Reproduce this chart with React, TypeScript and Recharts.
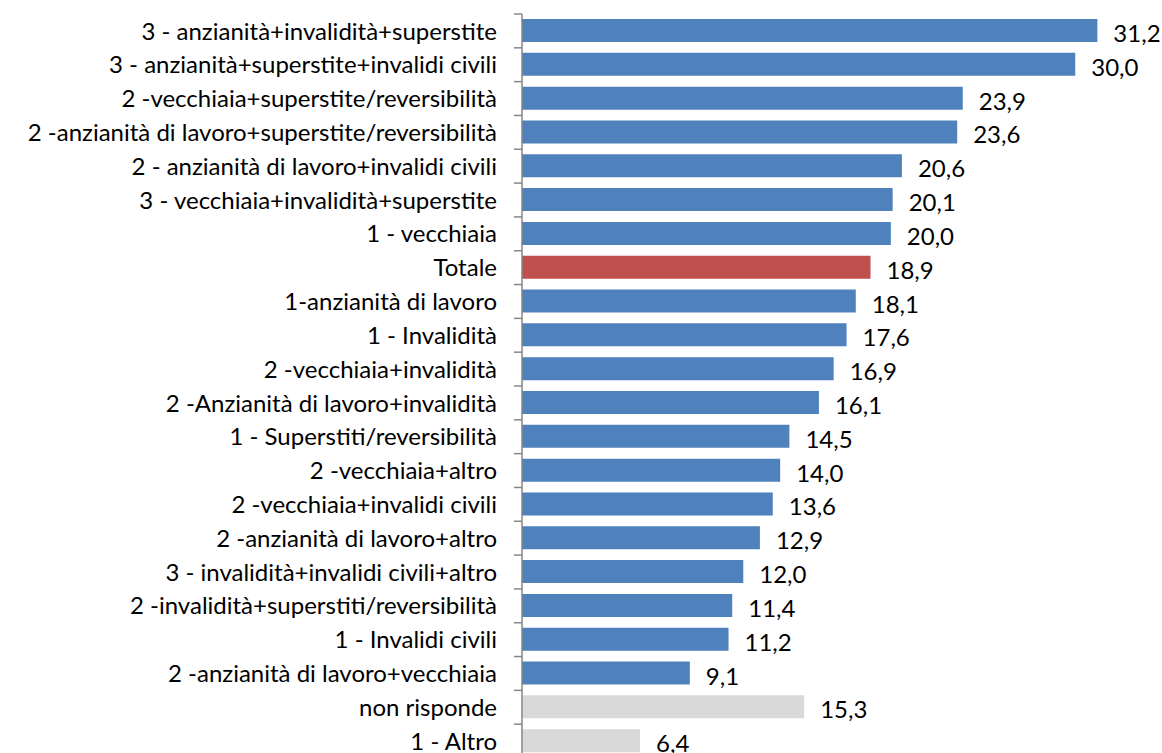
import React from 'react';
import { BarChart, Bar, XAxis, YAxis, Cell, LabelList } from 'recharts';

const categories = [
  '3 - anzianità+invalidità+superstite',
  '3 - anzianità+superstite+invalidi civili',
  '2 -vecchiaia+superstite/reversibilità',
  '2 -anzianità di lavoro+superstite/reversibilità',
  '2 - anzianità di lavoro+invalidi civili',
  '3 - vecchiaia+invalidità+superstite',
  '1 - vecchiaia',
  'Totale',
  '1-anzianità di lavoro',
  '1 - Invalidità',
  '2 -vecchiaia+invalidità',
  '2 -Anzianità di lavoro+invalidità',
  '1 - Superstiti/reversibilità',
  '2 -vecchiaia+altro',
  '2 -vecchiaia+invalidi civili',
  '2 -anzianità di lavoro+altro',
  '3 - invalidità+invalidi civili+altro',
  '2 -invalidità+superstiti/reversibilità',
  '1 - Invalidi civili',
  '2 -anzianità di lavoro+vecchiaia',
  'non risponde',
  '1 - Altro',
];

const values = [31.2, 30.0, 23.9, 23.6, 20.6, 20.1, 20.0, 18.9, 18.1, 17.6, 16.9, 16.1, 14.5, 14.0, 13.6, 12.9, 12.0, 11.4, 11.2, 9.1, 15.3, 6.4];

const totalCategory = 'Totale';
const otherCategories = ['non risponde', '1 - Altro'];

const data = categories.map((name, i) => ({ name, value: values[i] }));

const FONT = 'Lato, sans-serif';
const FONT_SIZE = 24;

const barColor = (name: string) => {
  if (name === totalCategory) return '#C0504D';
  if (otherCategories.includes(name)) return '#D9D9D9';
  return '#4F81BD';
};

const CategoryTick = (props: any) => {
  const { x, y, payload } = props;
  const half = payload.offset || 0;
  return (
    <g>
      <line x1={x - 8} x2={x} y1={y - half} y2={y - half} stroke="#868686" strokeWidth={1.5} />
      <text x={x - 25} y={y} dy="0.36em" textAnchor="end" fill="#000" fontSize={FONT_SIZE} fontFamily={FONT}>
        {payload.value}
      </text>
    </g>
  );
};

export default function App() {
  return (
    <div style={{ position: 'absolute', left: 0, top: 0, background: '#fff' }}>
      <BarChart
        width={1162}
        height={760}
        data={data}
        layout="vertical"
        margin={{ top: 14, right: 13, bottom: 2, left: 0 }}
      >
        <XAxis type="number" domain={[0, 34]} hide />
        <YAxis
          type="category"
          dataKey="name"
          width={522}
          tickSize={0}
          tickMargin={0}
          tickLine={false}
          axisLine={{ stroke: '#868686', strokeWidth: 1.5 }}
          tick={<CategoryTick />}
          interval={0}
        />
        <Bar dataKey="value" barSize={23} isAnimationActive={false}>
          {data.map((d) => (
            <Cell key={d.name} fill={barColor(d.name)} />
          ))}
          <LabelList
            dataKey="value"
            position="right"
            offset={16}
            fill="#000"
            fontSize={FONT_SIZE}
            fontFamily={FONT}
            dy={3}
            formatter={(v: any) => Number(v).toFixed(1).replace('.', ',')}
          />
        </Bar>
      </BarChart>
    </div>
  );
}
